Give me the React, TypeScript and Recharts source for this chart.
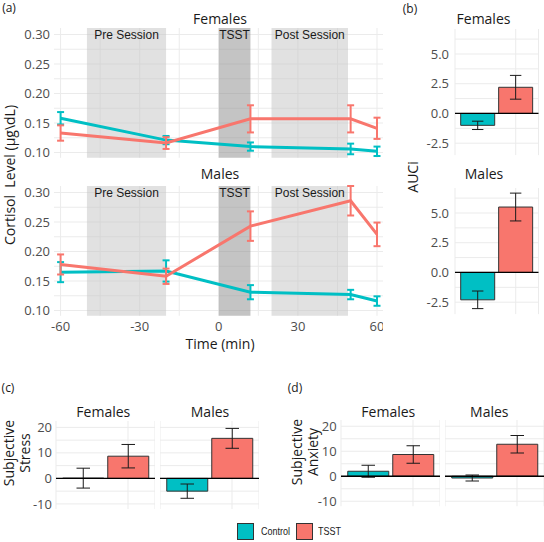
import React from "react";
import {
  Bar,
  BarChart,
  CartesianGrid,
  Cell,
  ErrorBar,
  Line,
  LineChart,
  ReferenceArea,
  ReferenceLine,
  XAxis,
  YAxis,
} from "recharts";

// (a) cortisol over time
const times = [-60, -20, 12, 50, 60];
const femaleControl = [0.158, 0.121, 0.11, 0.106, 0.102];
const femaleControlSe = [0.0105, 0.007, 0.007, 0.009, 0.008];
const femaleTsst = [0.133, 0.116, 0.157, 0.157, 0.141];
const femaleTsstSe = [0.013, 0.01, 0.023, 0.023, 0.018];
const maleControl = [0.165, 0.167, 0.131, 0.127, 0.116];
const maleControlSe = [0.017, 0.018, 0.012, 0.008, 0.008];
const maleTsst = [0.178, 0.158, 0.243, 0.286, 0.229];
const maleTsstSe = [0.017, 0.013, 0.025, 0.025, 0.02];

const periodLabels = ["Pre Session", "TSST", "Post Session"];
const periodStart = [-50, 0, 20];
const periodEnd = [-20, 12, 49];

const cortisolTicks = [0.1, 0.15, 0.2, 0.25, 0.3];
const cortisolGrid = [0.1, 0.125, 0.15, 0.175, 0.2, 0.225, 0.25, 0.275, 0.3];
const timeTicks = [-60, -30, 0, 30, 60];
const timeGrid = [-60, -45, -30, -15, 0, 15, 30, 45, 60];

// (b) AUCi
const groups = ["Control", "TSST"];
const aucFemale = [-1.0, 2.2];
const aucFemaleSe = [0.35, 1.0];
const aucMale = [-2.3, 5.5];
const aucMaleSe = [0.74, 1.17];
const aucTicks = [-2.5, 0, 2.5, 5];
const aucGrid = [-2.5, -1.25, 0, 1.25, 2.5, 3.75, 5, 6.25];

// (c) subjective stress, (d) subjective anxiety
const stressFemale = [0.1, 8.7];
const stressFemaleSe = [3.9, 4.6];
const stressMale = [-5.0, 15.7];
const stressMaleSe = [2.8, 3.9];
const anxietyFemale = [2.0, 8.7];
const anxietyFemaleSe = [2.4, 3.5];
const anxietyMale = [-0.7, 12.8];
const anxietyMaleSe = [1.2, 3.5];
const subjTicks = [-10, 0, 10, 20];
const subjGrid = [-10, -5, 0, 5, 10, 15, 20];

const TEAL = "#00BFC4";
const RED = "#F8766D";
const GRID = "#ebebeb";
const FONT = "'Open Sans', sans-serif";
const ARIAL = "'Liberation Sans', Arial, sans-serif";
const YW = 60;
const PAD = 10; // room above/below the plot so edge tick labels aren't clipped
const margins = { top: PAD, right: 0, bottom: PAD, left: 0 };
const tickStyle = { fill: "#4d4d4d", fontSize: 13, fontFamily: FONT };

function CortisolPanel({ left, top, width, height, control, controlSe, tsst, tsstSe, showX }: any) {
  const data = times.map((t, i) => ({
    t,
    control: control[i],
    controlSe: controlSe[i],
    tsst: tsst[i],
    tsstSe: tsstSe[i],
  }));
  const xh = showX ? 24 : 0;
  return (
    <div style={{ position: "absolute", left: left - YW, top: top - PAD }}>
      <LineChart width={width + YW} height={height + xh + 2 * PAD} data={data} margin={margins}>
        <CartesianGrid stroke={GRID} horizontalValues={cortisolGrid} verticalValues={timeGrid} />
        <XAxis
          type="number"
          dataKey="t"
          domain={[-62.5, 62.5]}
          allowDataOverflow
          ticks={timeTicks}
          interval={0}
          hide={!showX}
          height={xh}
          axisLine={false}
          tickLine={false}
          tickSize={0}
          tickMargin={6}
          tick={tickStyle}
        />
        <YAxis
          type="number"
          domain={[0.091, 0.311]}
          allowDataOverflow
          ticks={cortisolTicks}
          interval={0}
          width={YW}
          axisLine={false}
          tickLine={false}
          tickSize={0}
          tickMargin={4}
          tick={tickStyle}
          tickFormatter={(v: number) => v.toFixed(2)}
        />
        {periodLabels.map((label, i) => (
          <ReferenceArea
            key={label}
            x1={periodStart[i]}
            x2={periodEnd[i]}
            fill={label === "TSST" ? "#8a8a8a" : "#c4c4c4"}
            fillOpacity={0.5}
            stroke="none"
            label={{ value: label, position: "insideTop", offset: 2, fill: "#1a1a1a", fontSize: 12, fontFamily: ARIAL }}
          />
        ))}
        <Line dataKey="control" stroke={TEAL} strokeWidth={3} dot={false} isAnimationActive={false}>
          <ErrorBar dataKey="controlSe" width={3.5} stroke={TEAL} strokeWidth={2} />
        </Line>
        <Line dataKey="tsst" stroke={RED} strokeWidth={3} dot={false} isAnimationActive={false}>
          <ErrorBar dataKey="tsstSe" width={3.5} stroke={RED} strokeWidth={2} />
        </Line>
      </LineChart>
    </div>
  );
}

function BarPanel({ left, top, width, height, values, se, domain, ticks, grid, showY, tickMargin, fmt, pad, cap }: any) {
  const data = groups.map((g, i) => ({ group: g, value: values[i], se: se[i] }));
  const yw = showY ? YW : 0;
  return (
    <div style={{ position: "absolute", left: left - yw, top: top - PAD }}>
      <BarChart width={width + yw} height={height + 2 * PAD} data={data} margin={margins} barCategoryGap="5%">
        <CartesianGrid stroke={GRID} horizontalValues={grid} />
        <XAxis dataKey="group" hide padding={{ left: pad, right: pad }} />
        <YAxis
          type="number"
          domain={domain}
          allowDataOverflow
          ticks={ticks}
          interval={0}
          width={yw}
          hide={!showY}
          axisLine={false}
          tickLine={false}
          tickSize={0}
          tickMargin={tickMargin}
          tick={tickStyle}
          tickFormatter={fmt}
        />
        <Bar dataKey="value" stroke="#333333" strokeWidth={1} isAnimationActive={false}>
          {data.map((d) => (
            <Cell key={d.group} fill={d.group === "Control" ? TEAL : RED} />
          ))}
          <ErrorBar dataKey="se" width={cap} stroke="#1a1a1a" strokeWidth={1} />
        </Bar>
        <ReferenceLine y={0} stroke="#000" strokeWidth={1.3} />
      </BarChart>
    </div>
  );
}

function Label({ x, y, children, size = 14, rotate = false, color = "#1a1a1a", family = FONT, lh }: any) {
  return (
    <div
      style={{
        position: "absolute",
        left: x,
        top: y,
        transform: `translate(-50%, -50%)${rotate ? " rotate(-90deg)" : ""}`,
        fontSize: size,
        fontFamily: family,
        color,
        whiteSpace: "pre",
        textAlign: "center",
        lineHeight: lh ? `${lh}px` : "normal",
      }}
    >
      {children}
    </div>
  );
}

function LegendKey({ x, color, text, tx }: any) {
  return (
    <>
      <div style={{ position: "absolute", left: x, top: 523.3, width: 15, height: 15, background: color, border: "1.2px solid #333" }} />
      <div
        style={{
          position: "absolute",
          left: tx,
          top: 525,
          fontSize: 11,
          fontFamily: ARIAL,
          color: "#1a1a1a",
          lineHeight: "13px",
          transform: "scaleX(0.82)",
          transformOrigin: "left center",
          whiteSpace: "nowrap",
        }}
      >
        {text}
      </div>
    </>
  );
}

export default function App() {
  const subjFmt = (v: number) => String(v);
  return (
    <div style={{ position: "absolute", left: 0, top: 0, width: 544, height: 542, background: "#fff", overflow: "hidden" }}>
      <CortisolPanel left={53.7} top={28.2} width={329.6} height={129.8}
        control={femaleControl} controlSe={femaleControlSe} tsst={femaleTsst} tsstSe={femaleTsstSe} showX={false} />
      <CortisolPanel left={53.7} top={186.2} width={329.6} height={129.8}
        control={maleControl} controlSe={maleControlSe} tsst={maleTsst} tsstSe={maleTsstSe} showX />

      <BarPanel left={455} top={28.8} width={83.5} height={126.1} values={aucFemale} se={aucFemaleSe}
        domain={[-3.5, 7.1]} ticks={aucTicks} grid={aucGrid} showY tickMargin={6}
        fmt={(v: number) => v.toFixed(1)} pad={3.8} cap={5.7} />
      <BarPanel left={455} top={187.8} width={83.5} height={126.1} values={aucMale} se={aucMaleSe}
        domain={[-3.5, 7.1]} ticks={aucTicks} grid={aucGrid} showY tickMargin={6}
        fmt={(v: number) => v.toFixed(1)} pad={3.8} cap={5.7} />

      <BarPanel left={55.5} top={420.9} width={99} height={88} values={stressFemale} se={stressFemaleSe}
        domain={[-12, 22.5]} ticks={subjTicks} grid={subjGrid} showY tickMargin={4} fmt={subjFmt} pad={4.5} cap={6.75} />
      <BarPanel left={159.5} top={420.9} width={99} height={88} values={stressMale} se={stressMaleSe}
        domain={[-12, 22.5]} ticks={subjTicks} grid={subjGrid} showY={false} tickMargin={4} fmt={subjFmt} pad={4.5} cap={6.75} />

      <BarPanel left={341} top={420.45} width={99} height={86.25} values={anxietyFemale} se={anxietyFemaleSe}
        domain={[-12, 22.5]} ticks={subjTicks} grid={subjGrid} showY tickMargin={4.3} fmt={subjFmt} pad={4.5} cap={6.75} />
      <BarPanel left={444.5} top={420.45} width={99} height={86.25} values={anxietyMale} se={anxietyMaleSe}
        domain={[-12, 22.5]} ticks={subjTicks} grid={subjGrid} showY={false} tickMargin={4.3} fmt={subjFmt} pad={4.5} cap={6.75} />

      {/* panel letters */}
      <Label x={9} y={7} size={12}>(a)</Label>
      <Label x={410} y={8} size={12}>(b)</Label>
      <Label x={8} y={387} size={12}>(c)</Label>
      <Label x={295} y={387} size={12}>(d)</Label>

      {/* facet titles */}
      <Label x={220} y={18.3}>Females</Label>
      <Label x={220} y={173.3}>Males</Label>
      <Label x={483.5} y={18.3}>Females</Label>
      <Label x={484} y={173.3}>Males</Label>
      <Label x={103.3} y={411}>Females</Label>
      <Label x={210} y={411}>Males</Label>
      <Label x={388.3} y={411}>Females</Label>
      <Label x={489.3} y={411}>Males</Label>

      {/* axis titles */}
      <Label x={220} y={343.3}>Time (min)</Label>
      <Label x={9} y={175} rotate>{"Cortisol  Level (µg\\dL)"}</Label>
      <Label x={411.7} y={177} rotate>AUCi</Label>
      <Label x={17} y={452.5} rotate lh={16}>{"Subjective\nStress"}</Label>
      <Label x={305} y={452} rotate lh={16}>{"Subjective\nAnxiety"}</Label>

      {/* legend */}
      <LegendKey x={237.3} color={TEAL} text="Control" tx={260.7} />
      <LegendKey x={296} color={RED} text="TSST" tx={318.3} />
    </div>
  );
}
